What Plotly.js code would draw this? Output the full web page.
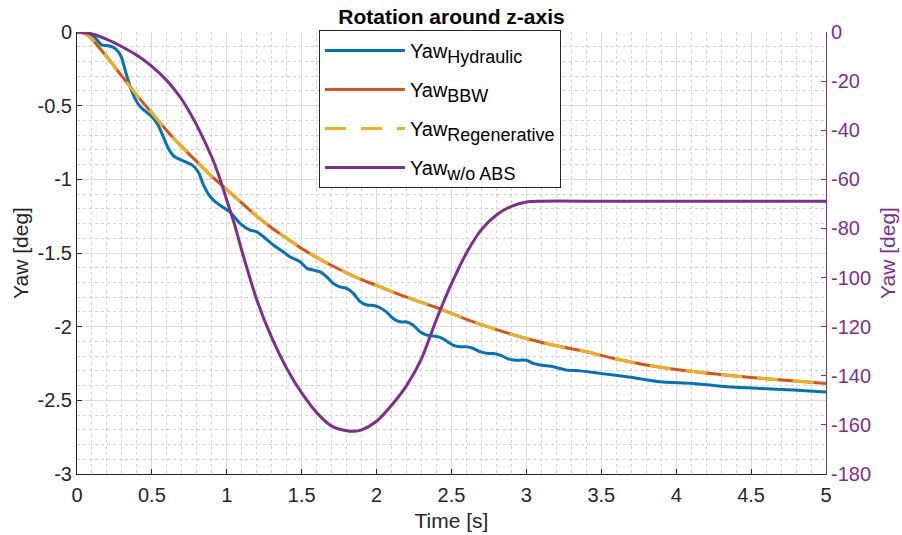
<!DOCTYPE html>
<html><head><meta charset="utf-8">
<script src="https://cdn.plot.ly/plotly-3.0.1.min.js"></script>
<style>html,body{margin:0;padding:0;background:#fff}#chart{width:902px;height:535px}</style>
</head><body><div id="chart"></div>
<script>
// ---- data ----
const tHyd = [0,0.05,0.1,0.13,0.165,0.21,0.25,0.28,0.3,0.33,0.365,0.4,0.43,0.5,0.54,0.58,0.61,0.65,0.72,0.765,0.81,0.845,0.88,0.92,0.975,1.02,1.09,1.155,1.2,1.245,1.31,1.375,1.42,1.49,1.535,1.58,1.62,1.665,1.71,1.755,1.8,1.845,1.89,1.935,1.98,2.02,2.065,2.11,2.155,2.2,2.245,2.29,2.335,2.38,2.425,2.47,2.51,2.555,2.6,2.645,2.69,2.735,2.78,2.825,2.87,2.915,3.0,3.045,3.09,3.18,3.27,3.36,3.49,3.67,3.89,4.11,4.34,4.56,4.78,5.0];
const yawHyd = [0,-0.003,-0.02,-0.05,-0.088,-0.093,-0.108,-0.14,-0.18,-0.29,-0.40,-0.475,-0.515,-0.575,-0.63,-0.72,-0.79,-0.845,-0.88,-0.90,-0.95,-1.04,-1.105,-1.15,-1.19,-1.22,-1.30,-1.344,-1.356,-1.39,-1.446,-1.49,-1.525,-1.56,-1.604,-1.616,-1.627,-1.66,-1.706,-1.73,-1.74,-1.774,-1.83,-1.853,-1.856,-1.87,-1.90,-1.944,-1.967,-1.968,-1.99,-2.035,-2.057,-2.064,-2.073,-2.10,-2.125,-2.136,-2.137,-2.148,-2.17,-2.181,-2.182,-2.193,-2.215,-2.227,-2.228,-2.249,-2.26,-2.272,-2.295,-2.30,-2.317,-2.34,-2.374,-2.385,-2.408,-2.419,-2.43,-2.443];

const tBBW = [0,0.05,0.1,0.2,0.3,0.4,0.5,0.6,0.7,0.8,0.9,1.0,1.1,1.2,1.3,1.4,1.5,1.6,1.7,1.8,1.9,2.0,2.2,2.4,2.6,2.8,3.0,3.2,3.4,3.6,3.8,4.0,4.25,4.5,4.75,5.0];
const yawBBW = [0,-0.01,-0.05,-0.17,-0.30,-0.43,-0.55,-0.67,-0.78,-0.88,-0.98,-1.07,-1.16,-1.25,-1.33,-1.40,-1.47,-1.53,-1.585,-1.635,-1.68,-1.72,-1.80,-1.87,-1.95,-2.02,-2.08,-2.13,-2.17,-2.22,-2.26,-2.29,-2.32,-2.345,-2.365,-2.385];

const tRegen = [0,0.05,0.1,0.2,0.3,0.4,0.5,0.6,0.7,0.8,0.9,1.0,1.1,1.2,1.3,1.4,1.5,1.6,1.7,1.8,1.9,2.0,2.2,2.4,2.6,2.8,3.0,3.2,3.4,3.6,3.8,4.0,4.25,4.5,4.75,5.0];
const yawRegen = [0,-0.01,-0.05,-0.17,-0.30,-0.43,-0.55,-0.67,-0.78,-0.88,-0.98,-1.07,-1.16,-1.25,-1.33,-1.40,-1.47,-1.53,-1.585,-1.635,-1.68,-1.72,-1.80,-1.87,-1.95,-2.02,-2.08,-2.13,-2.17,-2.22,-2.26,-2.29,-2.32,-2.345,-2.365,-2.385];

const tNoAbs = [0,0.1,0.2,0.3,0.4,0.5,0.6,0.65,0.7,0.75,0.8,0.9,0.95,1.0,1.05,1.1,1.2,1.3,1.4,1.5,1.6,1.7,1.8,1.85,1.9,2.0,2.1,2.2,2.3,2.4,2.5,2.6,2.7,2.8,2.9,3.0,3.1,3.5,4.0,4.5,5.0];
const yawNoAbs = [0,-0.8,-3,-6,-9.5,-14,-19.8,-23.4,-27.5,-32.5,-38,-51,-59,-68.5,-78,-89,-109,-124.5,-137,-147,-155,-160.5,-162.4,-162.6,-162,-158.5,-152,-144,-133,-117,-102.5,-90,-80.5,-74.5,-71,-69.2,-68.9,-68.9,-68.9,-68.9,-68.9];

const seriesNames = ['Yaw<sub><span style="font-size:18px">Hydraulic</span></sub>',
                     'Yaw<sub><span style="font-size:18px">BBW</span></sub>',
                     'Yaw<sub><span style="font-size:18px">Regenerative</span></sub>',
                     'Yaw<sub><span style="font-size:18px">w/o ABS</span></sub>'];

const xTickVals = [0,0.5,1,1.5,2,2.5,3,3.5,4,4.5,5];
const xTickText = ['0','0.5','1','1.5','2','2.5','3','3.5','4','4.5','5'];
const yTickVals = [0,-0.5,-1,-1.5,-2,-2.5,-3];
const yTickText = ['0','-0.5','-1','-1.5','-2','-2.5','-3'];
const y2TickVals = [0,-20,-40,-60,-80,-100,-120,-140,-160,-180];
const y2TickText = ['0','-20','-40','-60','-80','-100','-120','-140','-160','-180'];

const chartTitle = 'Rotation around z-axis';
const xTitle = 'Time [s]';
const yTitle = 'Yaw [deg]';
const y2Title = 'Yaw [deg]';

// ---- styling ----
const FONT = 'Liberation Sans, Arial, Helvetica, sans-serif';
const AX = '#262626';
const PURPLE = '#7E2F8E';

const traces = [
  {x:tHyd, y:yawHyd, name:seriesNames[0], legendgroup:'a', type:'scatter', mode:'lines',
   line:{color:'#0072BD', width:3, shape:'spline', smoothing:0.6}},
  {x:tBBW, y:yawBBW, name:seriesNames[1], legendgroup:'b', type:'scatter', mode:'lines',
   line:{color:'#D95319', width:3, shape:'spline', smoothing:0.8}},
  {x:tRegen, y:yawRegen, name:seriesNames[2], legendgroup:'c', type:'scatter', mode:'lines',
   line:{color:'#EDB120', width:3, dash:'21px,15px', shape:'spline', smoothing:0.8}},
  {x:tNoAbs, y:yawNoAbs, name:seriesNames[3], legendgroup:'d', type:'scatter', mode:'lines', yaxis:'y2',
   line:{color:PURPLE, width:3, shape:'spline', smoothing:0.8}}
];

const minorGrid = {tickmode:'linear', tick0:0, dtick:0.1, showgrid:true, gridcolor:'#d2d2d2', griddash:'dot', gridwidth:1};

const layout = {
  width:902, height:535,
  margin:{l:77, r:76, t:32, b:61, pad:0},
  paper_bgcolor:'#fff', plot_bgcolor:'#fff',
  font:{family:FONT, color:AX, size:20},
  title:{text:'<b>'+chartTitle+'</b>', font:{family:FONT, size:21, color:'#000'},
         xref:'paper', x:0.5, xanchor:'center', yref:'container', y:0.968, yanchor:'middle'},
  showlegend:true,
  legend:{x:0.323, y:1.0045, xanchor:'left', yanchor:'top', bgcolor:'#fff',
          bordercolor:AX, borderwidth:1, font:{family:FONT, size:20, color:'#000'},
          itemwidth:80, tracegroupgap:10, traceorder:'grouped'},
  xaxis:{range:[0,5], tickmode:'array', tickvals:xTickVals, ticktext:xTickText,
         ticks:'inside', ticklen:5, tickcolor:AX, showline:true, linecolor:AX, linewidth:1,
         showgrid:true, gridcolor:'#dadada', gridwidth:1, zeroline:false, minor:minorGrid,
         tickfont:{family:FONT, size:20, color:AX}, ticklabelstandoff:3,
         title:{text:xTitle, font:{family:FONT, size:21, color:AX}, standoff:8}, fixedrange:true},
  yaxis:{range:[-3,0], tickmode:'array', tickvals:yTickVals, ticktext:yTickText,
         ticks:'inside', ticklen:5, tickcolor:AX, showline:true, linecolor:AX, linewidth:1,
         showgrid:true, gridcolor:'#dadada', gridwidth:1, zeroline:false, minor:minorGrid,
         tickfont:{family:FONT, size:20, color:AX},
         title:{text:yTitle, font:{family:FONT, size:21, color:AX}, standoff:3}, fixedrange:true},
  yaxis2:{range:[-180,0], overlaying:'y', side:'right', tickmode:'array', tickvals:y2TickVals, ticktext:y2TickText,
          ticks:'inside', ticklen:5, tickcolor:PURPLE, showline:true, linecolor:PURPLE, linewidth:1,
          showgrid:false, zeroline:false, tickfont:{family:FONT, size:20, color:PURPLE},
          title:{text:y2Title, font:{family:FONT, size:21, color:PURPLE}, standoff:10}, fixedrange:true}
};

Plotly.newPlot('chart', traces, layout, {displayModeBar:false, staticPlot:true});
</script>
</body></html>
